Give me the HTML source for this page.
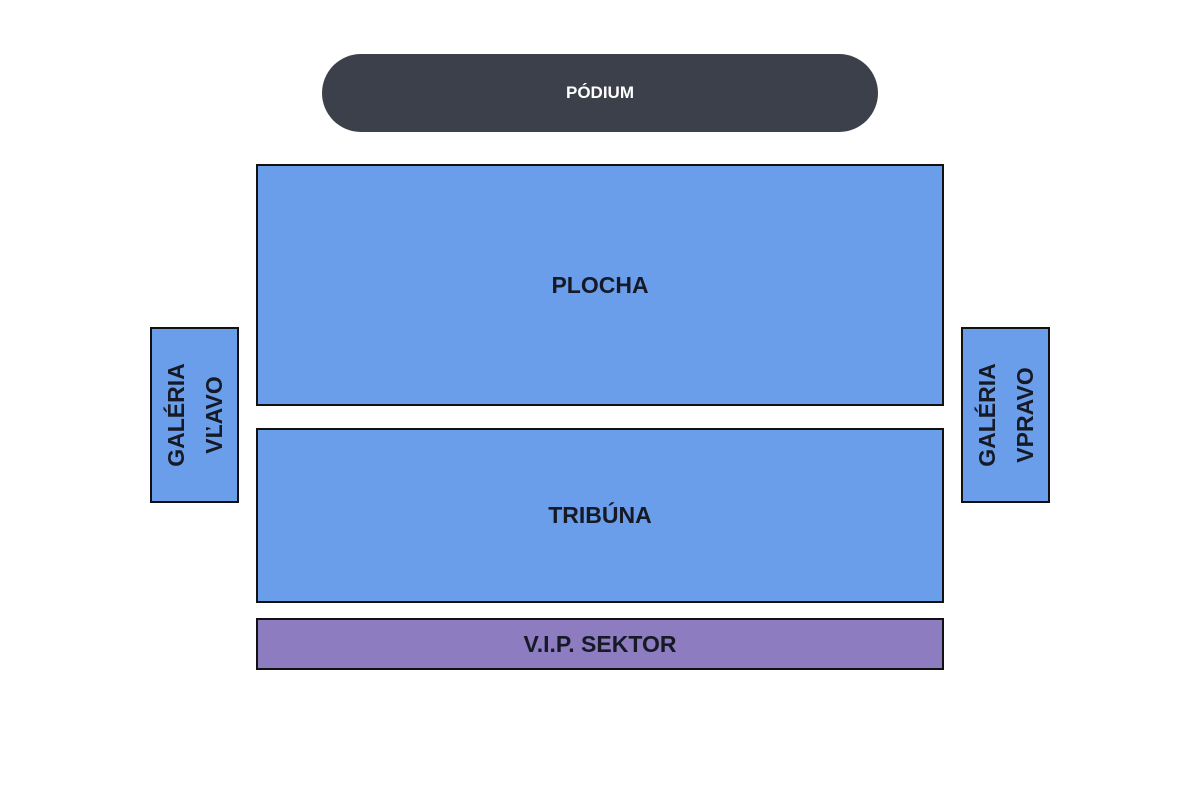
<!DOCTYPE html>
<html><head><style>
body{margin:0;width:1200px;height:800px;background:#fff;position:relative;font-family:"Liberation Sans",sans-serif;overflow:hidden}
.b{position:absolute;box-sizing:border-box;border:2px solid #111;display:flex;align-items:center;justify-content:center;font-weight:bold;color:#151a26;font-size:23px}
.blue{background:#6b9eea}
.rot{transform:rotate(-90deg);text-align:center;line-height:38px;white-space:nowrap}
</style></head><body>
<div class="b" style="left:322px;top:54px;width:556px;height:78px;border:none;border-radius:39px;background:#3c404b;color:#fff;font-size:17px">PÓDIUM</div>
<div class="b blue" style="left:256px;top:164px;width:688px;height:242px">PLOCHA</div>
<div class="b blue" style="left:256px;top:428px;width:688px;height:175px">TRIBÚNA</div>
<div class="b" style="left:256px;top:618px;width:688px;height:52px;background:#8d7cc0">V.I.P. SEKTOR</div>
<div class="b blue" style="left:150px;top:327px;width:89px;height:176px"><div class="rot">GALÉRIA<br>VĽAVO</div></div>
<div class="b blue" style="left:961px;top:327px;width:89px;height:176px"><div class="rot">GALÉRIA<br>VPRAVO</div></div>
</body></html>
